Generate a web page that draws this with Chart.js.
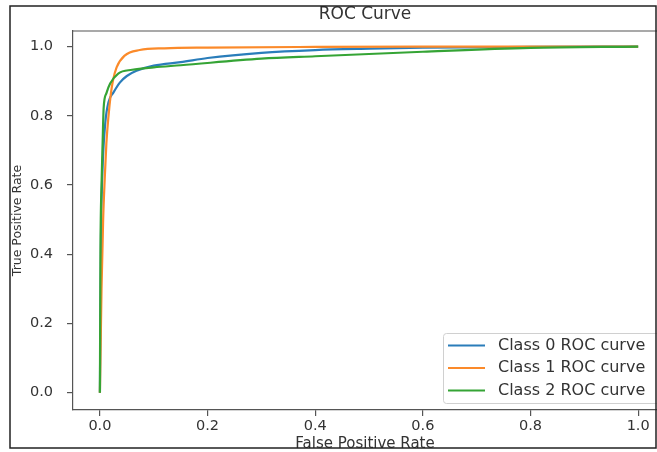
<!DOCTYPE html>
<html>
<head>
<meta charset="utf-8">
<script src="https://cdn.jsdelivr.net/npm/chart.js@4.4.1/dist/chart.umd.min.js"></script>
<style>
  html, body { margin: 0; padding: 0; background: #fff; overflow: hidden; }
  canvas { display: block; }
</style>
</head>
<body>
<canvas id="roc" width="657" height="452"></canvas>
<script>
const seriesLabels = ['Class 0 ROC curve', 'Class 1 ROC curve', 'Class 2 ROC curve'];
const seriesColors = ['#2a7dba', '#fb8a2a', '#35a435'];

// false positive rate / true positive rate
const class0Fpr = [0, 0.002, 0.005, 0.01, 0.016, 0.025, 0.037, 0.05, 0.068, 0.1, 0.15, 0.2, 0.3, 0.4, 0.5, 0.6, 0.8, 1.0];
const class0Tpr = [0, 0.45, 0.65, 0.78, 0.84, 0.867, 0.896, 0.915, 0.93, 0.945, 0.955, 0.967, 0.982, 0.99, 0.994, 0.997, 0.999, 1.0];

const class1Fpr = [0, 0.003, 0.006, 0.009, 0.012, 0.016, 0.02, 0.024, 0.031, 0.046, 0.074, 0.12, 0.2, 0.4, 0.6, 1.0];
const class1Tpr = [0, 0.3, 0.5, 0.62, 0.72, 0.8, 0.86, 0.9, 0.94, 0.974, 0.99, 0.995, 0.997, 0.999, 1.0, 1.0];

const class2Fpr = [0, 0.001, 0.003, 0.005, 0.007, 0.012, 0.019, 0.034, 0.06, 0.1, 0.15, 0.3, 0.4, 0.6, 0.8, 1.0];
const class2Tpr = [0, 0.4, 0.6, 0.72, 0.824, 0.865, 0.893, 0.922, 0.933, 0.94, 0.946, 0.965, 0.972, 0.985, 0.996, 1.0];

const tickValues = [0, 0.2, 0.4, 0.6, 0.8, 1.0];

const toPoints = (fpr, tpr) => fpr.map((x, i) => ({ x, y: tpr[i] }));
const curves = [
  toPoints(class0Fpr, class0Tpr),
  toPoints(class1Fpr, class1Tpr),
  toPoints(class2Fpr, class2Tpr)
];

const FONT = 'DejaVu Sans';
const AXIS = '#555';

const fixTicks = (scale) => {
  scale.ticks = tickValues.map(v => ({ value: v }));
};

// legend box, top spine and the outer frame of the picture
const decorations = {
  id: 'decorations',
  afterDraw(chart) {
    const ctx = chart.ctx;
    const a = chart.chartArea;
    ctx.save();

    ctx.strokeStyle = AXIS;
    ctx.lineWidth = 1.2;
    ctx.beginPath();
    ctx.moveTo(a.left, a.top);
    ctx.lineTo(a.right, a.top);
    ctx.stroke();

    const left = a.right - 214;
    const bottom = a.bottom - 7;
    const top = bottom - 70;
    ctx.fillStyle = 'rgba(255,255,255,0.85)';
    ctx.strokeStyle = '#d0d0d0';
    ctx.lineWidth = 1;
    ctx.beginPath();
    ctx.roundRect(left + 0.5, top + 0.5, 230, bottom - top, 3);
    ctx.fill();
    ctx.stroke();

    ctx.font = '16px "' + FONT + '"';
    ctx.textBaseline = 'middle';
    seriesLabels.forEach((label, i) => {
      const y = top + 12.5 + i * 22.5;
      ctx.strokeStyle = seriesColors[i];
      ctx.lineWidth = 2.2;
      ctx.beginPath();
      ctx.moveTo(left + 5, y);
      ctx.lineTo(left + 42, y);
      ctx.stroke();
      ctx.fillStyle = '#333';
      ctx.fillText(label, left + 55, y);
    });

    ctx.fillStyle = '#fff';
    ctx.fillRect(0, 449, chart.width, 3);
    ctx.strokeStyle = '#222';
    ctx.lineWidth = 1.5;
    ctx.strokeRect(10, 6, 646, 442);
    ctx.restore();
  }
};

new Chart(document.getElementById('roc'), {
  type: 'line',
  data: {
    datasets: curves.map((pts, i) => ({
      label: seriesLabels[i],
      data: pts,
      borderColor: seriesColors[i],
      backgroundColor: seriesColors[i],
      borderWidth: 2.2,
      pointRadius: 0,
      fill: false,
      cubicInterpolationMode: 'monotone',
      order: 3 - i
    }))
  },
  options: {
    responsive: false,
    animation: false,
    layout: { padding: { left: 0, right: 0, top: 0, bottom: 0 } },
    plugins: {
      legend: { display: false },
      tooltip: { enabled: false },
      title: {
        display: true,
        text: 'ROC Curve',
        fullSize: false,
        color: '#333',
        font: { family: FONT, size: 17, weight: 'normal' },
        padding: { top: 4.8, bottom: 5.8 }
      }
    },
    scales: {
      x: {
        type: 'linear',
        min: -0.05,
        max: 1.035,
        afterBuildTicks: fixTicks,
        afterFit: (s) => { s.height = 42; },
        grid: { drawOnChartArea: false, drawTicks: true, tickLength: 6, color: AXIS, lineWidth: 1.2 },
        border: { display: true, color: AXIS, width: 1.2 },
        ticks: {
          color: '#333',
          padding: 2,
          maxRotation: 0,
          font: { family: FONT, size: 14.5 },
          callback: (v) => Number(v).toFixed(1)
        },
        title: {
          display: true,
          text: 'False Positive Rate',
          color: '#333',
          font: { family: FONT, size: 15 },
          padding: { top: 0, bottom: -1 }
        }
      },
      y: {
        type: 'linear',
        min: -0.05,
        max: 1.045,
        afterBuildTicks: fixTicks,
        afterFit: (s) => { s.width = 73; },
        grid: { drawOnChartArea: false, drawTicks: true, tickLength: 6, color: AXIS, lineWidth: 1.2 },
        border: { display: true, color: AXIS, width: 1.2 },
        ticks: {
          color: '#333',
          padding: 14,
          font: { family: FONT, size: 14.5 },
          callback: (v) => Number(v).toFixed(1)
        },
        title: {
          display: true,
          text: 'True Positive Rate',
          color: '#333',
          font: { family: FONT, size: 12.5 },
          padding: { top: 10.5, bottom: 0 }
        }
      }
    }
  },
  plugins: [decorations]
});
</script>
</body>
</html>
